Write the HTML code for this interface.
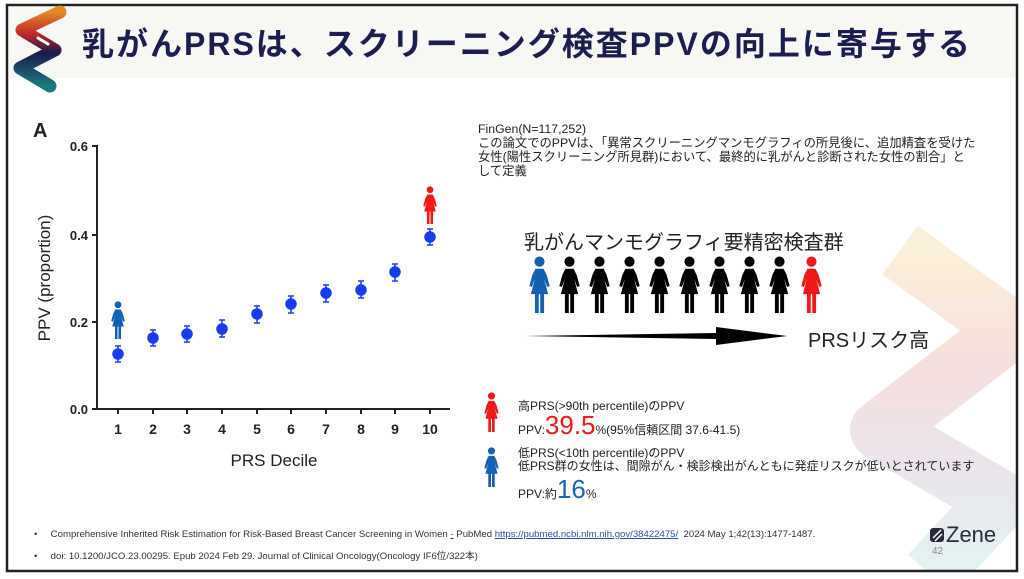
<!DOCTYPE html>
<html><head><meta charset="utf-8"><style>
body{margin:0;width:1024px;height:579px;background:#fff;overflow:hidden;position:relative;font-family:"Liberation Sans","Noto Sans CJK JP",sans-serif}
.a{position:absolute;white-space:nowrap}
</style></head><body>
<svg width="1024" height="579" style="position:absolute;left:0;top:0">
<defs>
<symbol id="w" viewBox="0 0 20 56"><circle cx="10" cy="5.5" r="5"/><path d="M6 12.5h8l3 6 3 11-2.5 1-3-8 4 15H1.5l4-15-3 8L0 29.5l3-11z"/><rect x="5.5" y="36" width="3.8" height="20"/><rect x="10.7" y="36" width="3.8" height="20"/></symbol>
<linearGradient id="lg" x1="0" y1="0" x2="0" y2="1"><stop offset="0" stop-color="#e08a2a"/><stop offset=".3" stop-color="#c0262c"/><stop offset=".55" stop-color="#1c1a4a"/><stop offset="1" stop-color="#1a7a80"/></linearGradient>
<linearGradient id="bg" x1="0" y1="0" x2="0" y2="1"><stop offset="0" stop-color="#f2d8a0"/><stop offset=".35" stop-color="#e9b0ae"/><stop offset=".7" stop-color="#c8c0d0"/><stop offset="1" stop-color="#b8e0e0"/></linearGradient>
<clipPath id="cp"><rect x="8" y="6" width="1008" height="564"/></clipPath>
</defs>
<rect x="9" y="7" width="1006" height="71" fill="#f7f7f4"/>
<g opacity=".4" clip-path="url(#cp)"><path d="M900 250 L1010 330 L880 430 L1000 500 L930 575" fill="none" stroke="url(#bg)" stroke-width="60" stroke-linejoin="round"/></g>
<rect x="7" y="5" width="1010" height="566" fill="none" stroke="#222" stroke-width="2.5"/>
<path d="M60 12 L22 30 L55 50 L20 68 L50 86" fill="none" stroke="url(#lg)" stroke-width="13" stroke-linecap="round" stroke-linejoin="round"/>
<path d="M38 38 L48 44" stroke="#fff" stroke-width="3" stroke-linecap="round"/>
<!-- chart -->
<g stroke="#222" stroke-width="2" fill="none"><path d="M97 145V409H450"/>
<path d="M92 146h5M92 235h5M92 322h5M92 409h5"/>
<path d="M118 409v5M153 409v5M187 409v5M222 409v5M257 409v5M291 409v5M326 409v5M361 409v5M395 409v5M430 409v5"/></g>
<g font-size="13" font-weight="bold" fill="#222" font-family="Liberation Sans"><text x="88" y="151" text-anchor="end">0.6</text><text x="88" y="240" text-anchor="end">0.4</text><text x="88" y="327" text-anchor="end">0.2</text><text x="88" y="414" text-anchor="end">0.0</text>
<g text-anchor="middle" font-size="14"><text x="118" y="434">1</text><text x="153" y="434">2</text><text x="187" y="434">3</text><text x="222" y="434">4</text><text x="257" y="434">5</text><text x="291" y="434">6</text><text x="326" y="434">7</text><text x="361" y="434">8</text><text x="395" y="434">9</text><text x="430" y="434">10</text></g>
<text x="274" y="466" text-anchor="middle" font-size="17" font-weight="normal" style="font-stretch:condensed">PRS Decile</text>
<text transform="translate(50,278) rotate(-90)" text-anchor="middle" font-size="17" font-weight="normal">PPV (proportion)</text>
<text x="33" y="137" font-size="20">A</text></g>
<g fill="#1a3cf0" stroke="#1a3cf0" stroke-width="1.5">
<circle cx="118" cy="354" r="5"/><path d="M118 346v16M115 346h6M115 362h6"/>
<circle cx="153" cy="338" r="5"/><path d="M153 330v16M150 330h6M150 346h6"/>
<circle cx="187" cy="334" r="5"/><path d="M187 326v16M184 326h6M184 342h6"/>
<circle cx="222" cy="329" r="5"/><path d="M222 320v17M219 320h6M219 337h6"/>
<circle cx="257" cy="314" r="5"/><path d="M257 306v17M254 306h6M254 323h6"/>
<circle cx="291" cy="304" r="5"/><path d="M291 296v17M288 296h6M288 313h6"/>
<circle cx="326" cy="293" r="5"/><path d="M326 285v17M323 285h6M323 302h6"/>
<circle cx="361" cy="290" r="5"/><path d="M361 281v17M358 281h6M358 298h6"/>
<circle cx="395" cy="272" r="5"/><path d="M395 264v17M392 264h6M392 281h6"/>
<circle cx="430" cy="237" r="5"/><path d="M430 229v16M427 229h6M427 245h6"/></g>
<use href="#w" x="108" y="301" width="20" height="38" fill="#1560b0"/>
<use href="#w" x="420" y="186" width="20" height="38" fill="#f01818"/>
<!-- row of women -->
<use href="#w" x="527" y="256" width="25" height="57" fill="#1560b0"/>
<use href="#w" x="557" y="256" width="25" height="57" fill="#000"/>
<use href="#w" x="587" y="256" width="25" height="57" fill="#000"/>
<use href="#w" x="617" y="256" width="25" height="57" fill="#000"/>
<use href="#w" x="647" y="256" width="25" height="57" fill="#000"/>
<use href="#w" x="677" y="256" width="25" height="57" fill="#000"/>
<use href="#w" x="707" y="256" width="25" height="57" fill="#000"/>
<use href="#w" x="737" y="256" width="25" height="57" fill="#000"/>
<use href="#w" x="767" y="256" width="25" height="57" fill="#000"/>
<use href="#w" x="799" y="256" width="25" height="57" fill="#f01818"/>
<path d="M525 336 L716 333 L716 327 L787 336 L716 345 L716 339Z" fill="#000"/>
<use href="#w" x="483" y="392" width="17" height="40" fill="#f01818"/>
<use href="#w" x="483" y="447" width="17" height="40" fill="#1560b0"/>
<rect x="930" y="528" width="14" height="14" rx="3" fill="#2a2a3a"/><path d="M933 538l8-8M935 541l7-7" stroke="#fff" stroke-width="1.5"/>
</svg>
<div class="a" style="left:82px;top:19px;font-size:32px;color:#1c1f4e;font-weight:bold;letter-spacing:2px">乳がんPRSは、スクリーニング検査PPVの向上に寄与する</div>
<div class="a" style="left:478px;top:122px;font-size:12.3px;line-height:14px;color:#222">FinGen(N=117,252)<br>この論文でのPPVは、「異常スクリーニングマンモグラフィの所見後に、追加精査を受けた<br>女性(陽性スクリーニング所見群)において、最終的に乳がんと診断された女性の割合」と<br>して定義</div>
<div class="a" style="left:524px;top:226px;font-size:20px;color:#222">乳がんマンモグラフィ要精密検査群</div>
<div class="a" style="left:808px;top:324px;font-size:20px;color:#222">PRSリスク高</div>
<div class="a" style="left:518px;top:397px;font-size:12px;color:#222">高PRS(&gt;90th percentile)のPPV</div>
<div class="a" style="left:518px;top:410px;font-size:12px;color:#222">PPV:<span style="font-size:26px;color:#f01818">39.5</span>%(95%信頼区間 37.6-41.5)</div>
<div class="a" style="left:518px;top:447px;font-size:12px;line-height:13px;color:#222">低PRS(&lt;10th percentile)のPPV<br>低PRS群の女性は、間隙がん・検診検出がんともに発症リスクが低いとされています</div>
<div class="a" style="left:518px;top:474px;font-size:12px;color:#222">PPV:約<span style="font-size:26px;color:#1565c0">16</span>%</div>
<div class="a" style="left:34px;top:529px;font-size:9.6px;color:#333">•&nbsp;&nbsp;&nbsp;&nbsp;&nbsp;Comprehensive Inherited Risk Estimation for Risk-Based Breast Cancer Screening in Women <u>-</u> PubMed <u style="color:#2b4fb0">https://pubmed.ncbi.nlm.nih.gov/38422475/</u>&nbsp; 2024 May 1;42(13):1477-1487.</div>
<div class="a" style="left:34px;top:548px;font-size:9.6px;color:#333">•&nbsp;&nbsp;&nbsp;&nbsp;&nbsp;doi: 10.1200/JCO.23.00295. Epub 2024 Feb 29. Journal of Clinical Oncology(Oncology IF6位/322本)</div>
<div class="a" style="left:946px;top:522px;font-size:22px;color:#2a2a3a">Zene</div>
<div class="a" style="left:932px;top:546px;font-size:10px;color:#888">42</div>
</body></html>
